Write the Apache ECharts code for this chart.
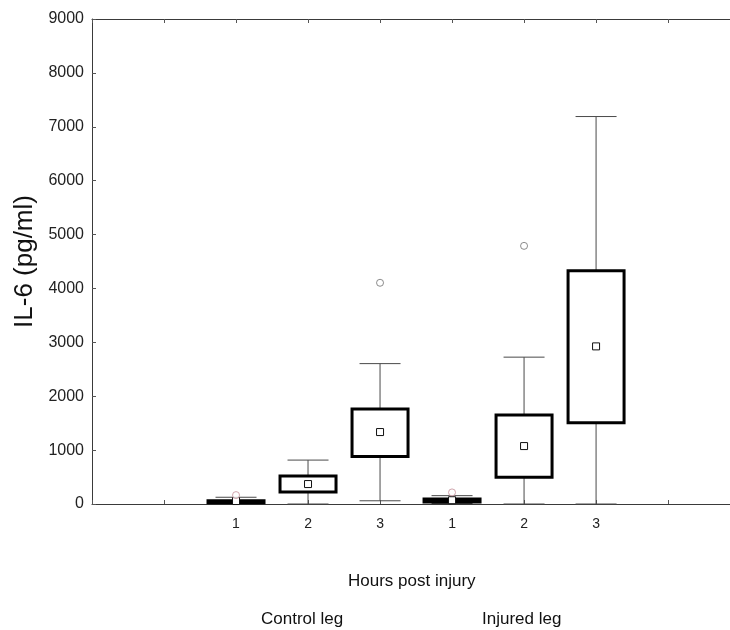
<!DOCTYPE html>
<html>
<head>
<meta charset="utf-8">
<script src="https://cdn.jsdelivr.net/npm/echarts@6/dist/echarts.min.js"></script>
<style>html,body{margin:0;padding:0;background:#fff}#c{width:730px;height:630px}</style>
</head>
<body>
<div id="c"></div>
<script>
// x positions of the six groups on the axis (0..9; the frame is cut at the right edge of the picture)
const positions = [2, 3, 4, 5, 6, 7];
const groupNames = ['Control leg 1', 'Control leg 2', 'Control leg 3', 'Injured leg 1', 'Injured leg 2', 'Injured leg 3'];
const whiskerLow = [10, 0, 60, 10, 0, 0];
const q1 = [25, 225, 880, 35, 495, 1510];
const center = [55, 370, 1335, 70, 1075, 2925];
const q3 = [60, 520, 1765, 95, 1650, 4330];
const whiskerHigh = [125, 815, 2605, 155, 2725, 7190];
// outliers: [x position, value, group index]
const outliers = [[2, 165, 0], [4, 4105, 2], [5, 215, 3], [6, 4790, 4]];
const tickLabels = ['', '', '1', '2', '3', '1', '2', '3', '', ''];
const yTicks = [0, 1000, 2000, 3000, 4000, 5000, 6000, 7000, 8000, 9000];
const xVisibleMax = 8.86; // visible part of the 0..9 axis

const boxData = positions.map((p, i) => [p, whiskerLow[i], q1[i], center[i], q3[i], whiskerHigh[i]]);
const FONT = '"Liberation Sans", Arial, sans-serif';

const chart = echarts.init(document.getElementById('c'), null, {renderer: 'canvas'});
chart.setOption({
  animation: false,
  backgroundColor: '#fff',
  grid: {left: 92, right: 0, top: 19, bottom: 126, containLabel: false},
  xAxis: [{
    type: 'value', min: 0, max: xVisibleMax, interval: 1, position: 'bottom',
    axisLine: {show: true, onZero: false, lineStyle: {color: '#3a3a3a', width: 1}},
    axisTick: {show: true, inside: true, length: 4, lineStyle: {color: '#555'}},
    axisLabel: {show: true, margin: 13, fontSize: 14, color: '#222', fontFamily: FONT, showMaxLabel: false,
      formatter: v => (Math.abs(v - Math.round(v)) < 1e-6 ? (tickLabels[Math.round(v)] || '') : '')},
    splitLine: {show: false}
  }, {
    type: 'value', min: 0, max: xVisibleMax, interval: 1, position: 'top',
    axisLine: {show: true, onZero: false, lineStyle: {color: '#3a3a3a', width: 1}},
    axisTick: {show: true, inside: true, length: 4, lineStyle: {color: '#555'}},
    axisLabel: {show: false}, splitLine: {show: false}
  }],
  yAxis: [{
    type: 'value', min: 0, max: 9000, interval: 1000,
    name: 'IL-6 (pg/ml)', nameLocation: 'middle', nameGap: 50, nameRotate: 90,
    nameTextStyle: {fontSize: 26, color: '#111', fontFamily: FONT},
    axisLine: {show: true, onZero: false, lineStyle: {color: '#3a3a3a', width: 1}},
    axisTick: {show: true, inside: true, length: 4, lineStyle: {color: '#555'}},
    axisLabel: {margin: 8, fontSize: 16, color: '#222', fontFamily: FONT,
      formatter: v => yTicks.indexOf(v) >= 0 ? String(v) : ''},
    splitLine: {show: false}
  }],
  series: [{
    type: 'custom',
    data: boxData,
    encode: {x: 0, y: [1, 2, 3, 4, 5]},
    clip: false,
    renderItem: function (params, api) {
      const x = api.value(0);
      const pLow = api.coord([x, api.value(1)]);
      const pQ1 = api.coord([x, api.value(2)]);
      const pC = api.coord([x, api.value(3)]);
      const pQ3 = api.coord([x, api.value(4)]);
      const pHigh = api.coord([x, api.value(5)]);
      const cx = pC[0];
      const boxW = 56, capW = 41, sq = 7;
      const thin = {stroke: '#4a4a4a', lineWidth: 1};
      return {
        type: 'group',
        children: [
          {type: 'line', shape: {x1: cx, y1: pQ3[1], x2: cx, y2: pHigh[1]}, style: thin},
          {type: 'line', shape: {x1: cx, y1: pQ1[1], x2: cx, y2: pLow[1]}, style: thin},
          {type: 'line', shape: {x1: cx - capW / 2, y1: pHigh[1], x2: cx + capW / 2, y2: pHigh[1]}, style: thin},
          {type: 'line', shape: {x1: cx - capW / 2, y1: pLow[1], x2: cx + capW / 2, y2: pLow[1]}, style: thin},
          {type: 'rect', shape: {x: cx - boxW / 2, y: pQ3[1], width: boxW, height: pQ1[1] - pQ3[1]},
            style: {fill: '#fff', stroke: '#000', lineWidth: 3}},
          {type: 'rect', shape: {x: cx - sq / 2, y: pC[1] - sq / 2, width: sq, height: sq},
            style: {fill: '#fff', stroke: '#111', lineWidth: 1}}
        ]
      };
    },
    z: 2
  }, {
    type: 'scatter',
    data: outliers.map(o => ({value: [o[0], o[1]], itemStyle: {borderColor: (o[2] === 0 || o[2] === 3) ? '#c48e98' : '#6f6f6f'}})),
    symbol: 'circle', symbolSize: 7,
    itemStyle: {color: '#fff', borderColor: '#6f6f6f', borderWidth: 1},
    z: 3
  }],
  graphic: [
    {type: 'text', left: 348, top: 573, style: {text: 'Hours post injury', fontSize: 17, fill: '#111', fontFamily: FONT}},
    {type: 'text', left: 261, top: 611, style: {text: 'Control leg', fontSize: 17, fill: '#111', fontFamily: FONT}},
    {type: 'text', left: 482, top: 611, style: {text: 'Injured leg', fontSize: 17, fill: '#111', fontFamily: FONT}}
  ]
});
</script>
</body>
</html>
